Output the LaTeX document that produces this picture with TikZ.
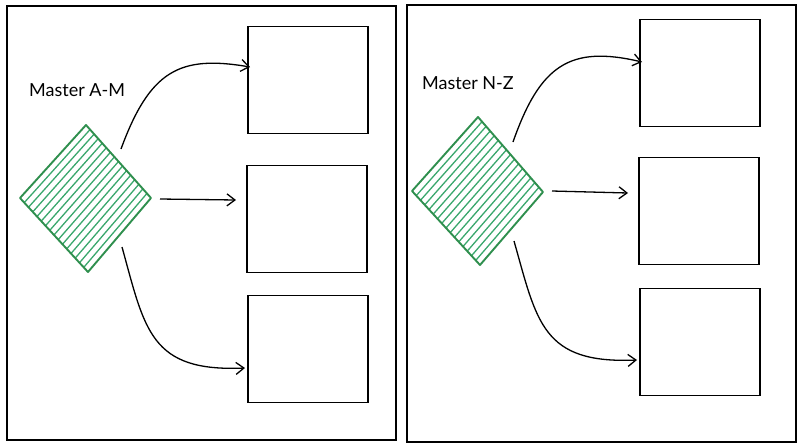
\documentclass[tikz,border=0pt]{standalone}
\usepackage{fontspec}
\setmainfont{Lato}
\usetikzlibrary{arrows.meta,calc}
\definecolor{dgreen}{HTML}{2F8F4E}
\definecolor{hgreen}{HTML}{3AA76D}
\tikzset{
  panel/.style={draw=black, line width=2pt},
  bucket/.style={draw=black, line width=1.5pt, rectangle, inner sep=0pt, minimum width=120pt, minimum height=107pt},
  link/.style={draw=black, line width=1.3pt, -{Straight Barb[length=8pt,width=12pt,line width=1.3pt]}},
  masteredge/.style={draw=dgreen, line width=1.9pt, line join=round},
  hatch/.style={draw=hgreen, line width=1.3pt},
  lbl/.style={font=\fontsize{18}{20}\selectfont, inner sep=0pt}
}
\begin{document}
\begin{tikzpicture}[x=1pt,y=-1pt]
\useasboundingbox (0,0) rectangle (800,445);
% panels
\draw[panel] (7,6) rectangle (396,440);
\draw[panel] (407,5) rectangle (796,442);

% ---------- left panel ----------
\node[bucket] (la) at (308,80) {};
\node[bucket] (lb) at (307,219) {};
\node[bucket] (lc) at (308,349) {};
\coordinate (lT) at (86,125);
\coordinate (lR) at (151,198);
\coordinate (lB) at (88,272);
\coordinate (lL) at (20,198);
\foreach \i in {1,...,15} {
  \draw[hatch] ($(lL)!{\i/16}!(lB)$) -- ($(lT)!{\i/16}!(lR)$);
}
\draw[masteredge] (lT) -- (lR) -- (lB) -- (lL) -- cycle;
\node[lbl, anchor=west] (lm) at (29,90) {Master A-M};
\coordinate (ls1) at (121,149);
\coordinate (le1) at (250,67);
\coordinate (ls2) at (160,199);
\coordinate (le2) at (236,200);
\coordinate (ls3) at (122,247);
\coordinate (le3) at (245,368);
\draw[link] (ls1) .. controls (150,70) and (180,55) .. (le1);
\draw[link] (ls2) -- (le2);
\draw[link] (ls3) .. controls (145,330) and (150,372) .. (le3);

% ---------- right panel ----------
\node[bucket] (ra) at (700,73) {};
\node[bucket] (rb) at (699,211) {};
\node[bucket] (rc) at (700,342) {};
\coordinate (rT) at (478,117);
\coordinate (rR) at (543,192);
\coordinate (rB) at (480,265);
\coordinate (rL) at (412,191);
\foreach \i in {1,...,15} {
  \draw[hatch] ($(rL)!{\i/16}!(rB)$) -- ($(rT)!{\i/16}!(rR)$);
}
\draw[masteredge] (rT) -- (rR) -- (rB) -- (rL) -- cycle;
\node[lbl, anchor=west] (rm) at (422,83) {Master N-Z};
\coordinate (rs1) at (513,142);
\coordinate (re1) at (642,62);
\coordinate (rs2) at (552,191);
\coordinate (re2) at (628,193);
\coordinate (rs3) at (514,241);
\coordinate (re3) at (637,360);
\draw[link] (rs1) .. controls (540,65) and (570,45) .. (re1);
\draw[link] (rs2) -- (re2);
\draw[link] (rs3) .. controls (537,322) and (542,364) .. (re3);
\end{tikzpicture}
\end{document}
